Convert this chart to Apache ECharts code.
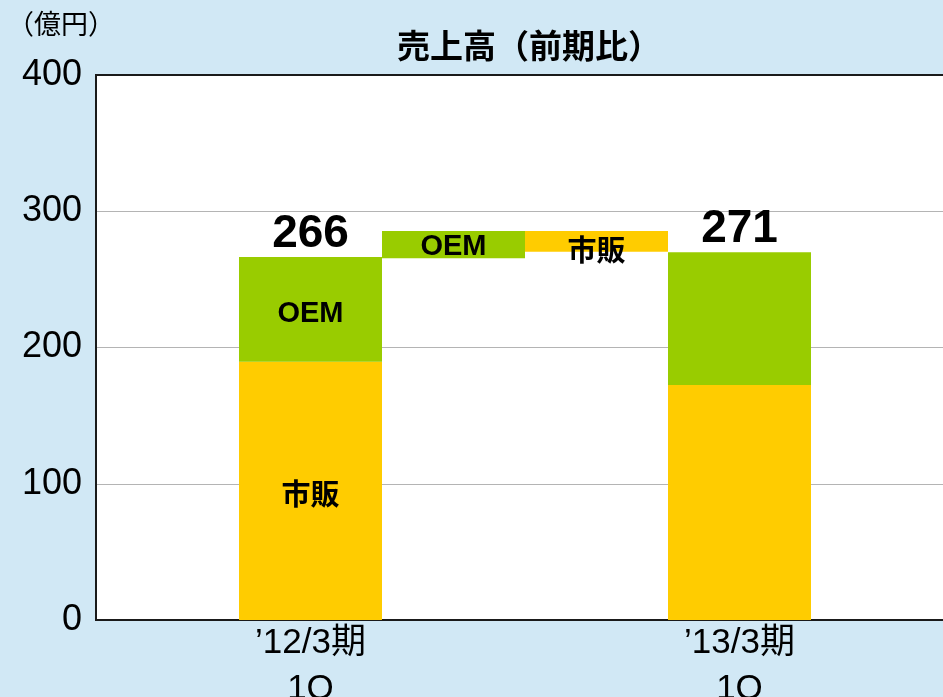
<!DOCTYPE html>
<html>
<head>
<meta charset="utf-8">
<script src="https://cdn.jsdelivr.net/npm/echarts@6/dist/echarts.min.js"></script>
<style>
  html, body { margin: 0; padding: 0; background: #d1e8f5; }
  #main { width: 943px; height: 697px; }
</style>
</head>
<body>
<div id="main"></div>
<script>
// 区分：空き, '12/3期1Q, OEM増減, 市販増減, '13/3期1Q, 空き
var categories = ['', '’12/3期\n1Q', '', '', '’13/3期\n1Q', ''];
var baseValues = ['-', '-', 265.5, 270.3, '-', '-'];   // 透明の土台
var shihanValues = ['-', 189.5, '-', 15.2, 172.5, '-'];
var oemValues = ['-', 77, 20, '-', 97.5, '-'];
var totalValues = ['-', 266.5, '-', '-', 270, '-'];
var totalLabels = ['', '266', '', '', '271', ''];
var yTicks = [0, 100, 200, 300, 400];

var FONT = '"Liberation Sans", Arial, "Noto Sans CJK JP", sans-serif';

var chart = echarts.init(document.getElementById('main'));

var barLabel = function (text, offset) {
    return {
        show: true,
        position: 'inside',
        formatter: text,
        offset: offset || [0, 0],
        color: '#000',
        fontWeight: 'bold',
        fontSize: 29,
        fontFamily: FONT
    };
};

var shihanData = shihanValues.map(function (v, i) {
    var d = { value: v };
    if (i === 1) d.label = barLabel('市販', [0, 6]);
    if (i === 3) d.label = barLabel('市販', [0, 12]);
    return d;
});
var oemData = oemValues.map(function (v, i) {
    var d = { value: v };
    if (i === 1) d.label = barLabel('OEM', [0, 5]);
    if (i === 2) d.label = barLabel('OEM', [0, 2]);
    return d;
});

var option = {
    backgroundColor: '#d1e8f5',
    animation: false,
    title: {
        text: '売上高（前期比）',
        left: 524,
        top: 27,
        textAlign: 'center',
        textStyle: { fontSize: 33, fontWeight: 'bold', color: '#000', fontFamily: FONT }
    },
    graphic: [{
        type: 'text',
        left: 7,
        top: 13,
        style: { text: '（億円）', fontSize: 27, fill: '#000', fontFamily: FONT }
    }],
    grid: {
        left: 96,
        right: -11,
        top: 75,
        bottom: 77,
        outerBoundsMode: 'none',
        containLabel: false,
        show: true,
        backgroundColor: '#fff',
        borderColor: '#1a1a1a',
        borderWidth: 2
    },
    xAxis: {
        type: 'category',
        data: categories,
        axisTick: { show: false },
        axisLine: { show: true, lineStyle: { color: '#1a1a1a', width: 2 } },
        axisLabel: {
            interval: 0,
            margin: 0,
            fontSize: 35,
            lineHeight: 46,
            color: '#000',
            fontFamily: FONT
        }
    },
    yAxis: {
        type: 'value',
        min: 0,
        max: 400,
        interval: 100,
        axisLine: { show: true, lineStyle: { color: '#1a1a1a', width: 2 } },
        axisTick: { show: false },
        axisLabel: {
            margin: 14,
            fontSize: 36,
            color: '#000',
            fontFamily: FONT,
            formatter: function (v) { return yTicks.indexOf(v) >= 0 ? String(v) : ''; }
        },
        splitLine: {
            show: true,
            lineStyle: { color: ['rgba(0,0,0,0)', '#b4b4b4', '#b4b4b4', '#b4b4b4', 'rgba(0,0,0,0)'], width: 1 }
        }
    },
    series: [
        {
            name: 'base',
            type: 'bar',
            stack: 'total',
            barCategoryGap: '0%',
            itemStyle: { color: 'rgba(0,0,0,0)' },
            silent: true,
            data: baseValues
        },
        {
            name: '市販',
            type: 'bar',
            stack: 'total',
            barCategoryGap: '0%',
            itemStyle: { color: '#ffcc00' },
            data: shihanData
        },
        {
            name: 'OEM',
            type: 'bar',
            stack: 'total',
            barCategoryGap: '0%',
            itemStyle: { color: '#99cc00' },
            data: oemData
        },
        {
            name: '合計',
            type: 'scatter',
            symbolSize: 0,
            z: 10,
            itemStyle: { opacity: 1 },
            data: totalValues,
            label: {
                show: true,
                position: 'top',
                distance: 0,
                formatter: function (p) { return totalLabels[p.dataIndex]; },
                color: '#000',
                fontWeight: 'bold',
                fontSize: 46,
                fontFamily: FONT
            }
        }
    ]
};

chart.setOption(option);
</script>
</body>
</html>
